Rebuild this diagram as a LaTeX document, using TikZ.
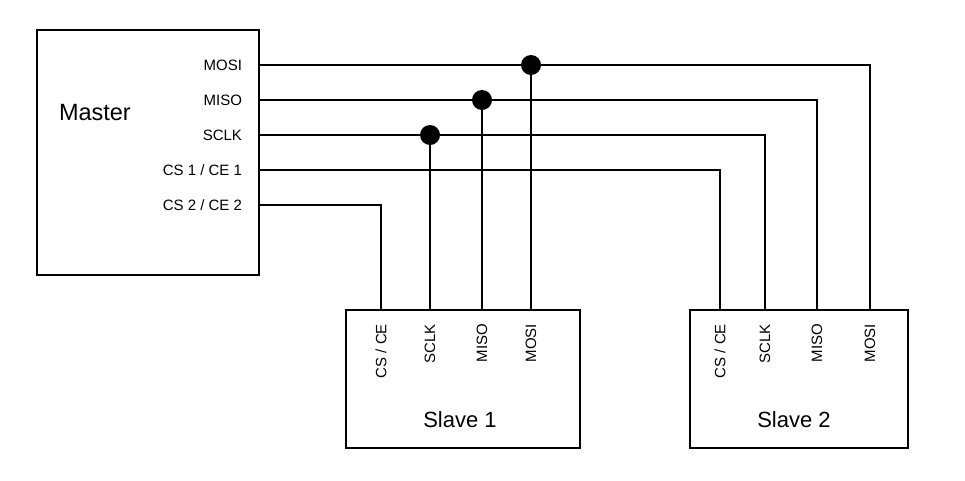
\documentclass[tikz,border=0pt]{standalone}
\usepackage{fontspec}
\setmainfont{Liberation Sans}
\usetikzlibrary{positioning}
\newcommand{\tikzJunctionDot}[1]{\fill #1 circle (10pt)}

\begin{document}
\begin{tikzpicture}[x=1pt,y=-1pt,line width=2pt,
    box/.style={draw,rectangle,inner sep=0pt,outer sep=0pt,anchor=north west},
    pin/.style={font=\fontsize{15}{18}\selectfont,inner sep=0pt,anchor=east},
    slavepin/.style={pin,rotate=90},
    title/.style={font=\fontsize{22}{26}\selectfont,inner sep=0pt}]
                \useasboundingbox (0,0) rectangle (965,480);
                % boxes
                \node[box,minimum width=222pt,minimum height=245pt] (master) at (37,30) {};
                \node[box,minimum width=234pt,minimum height=138pt] (slave1) at (346,310) {};
                \node[box,minimum width=218pt,minimum height=138pt] (slave2) at (690,310) {};
                \node[title,font=\fontsize{23.5}{28}\selectfont,anchor=base west] (mastertxt) at (58,120) {Master};
                \node[title] (slave1txt) at (460,420) {Slave 1};
                \node[title] (slave2txt) at (794,420) {Slave 2};
                % master pins
                \node[pin] (mmosi) at (243,65) {MOSI};
                \node[pin] (mmiso) at (243,100) {MISO};
                \node[pin] (msclk) at (243,135) {SCLK};
                \node[pin] (mcs1) at (243,170) {CS 1 / CE 1};
                \node[pin] (mcs2) at (243,205) {CS 2 / CE 2};
                % slave pins
                \node[slavepin] (s1cs) at (381,323) {CS / CE};
                \node[slavepin] (s1sclk) at (430,323) {SCLK};
                \node[slavepin] (s1miso) at (482,323) {MISO};
                \node[slavepin] (s1mosi) at (531,323) {MOSI};
                \node[slavepin] (s2cs) at (720,323) {CS / CE};
                \node[slavepin] (s2sclk) at (765,323) {SCLK};
                \node[slavepin] (s2miso) at (817,323) {MISO};
                \node[slavepin] (s2mosi) at (870,323) {MOSI};
                % wires to slave 2
                \draw (master.east |- mmosi) -| (s2mosi |- slave2.north);
                \draw (master.east |- mmiso) -| (s2miso |- slave2.north);
                \draw (master.east |- msclk) -| (s2sclk |- slave2.north);
                \draw (master.east |- mcs1) -| (s2cs |- slave2.north);
                % wires to slave 1
                \draw (master.east |- mcs2) -| (s1cs |- slave1.north);
                \coordinate (jmosi) at (s1mosi |- mmosi);
                \coordinate (jmiso) at (s1miso |- mmiso);
                \coordinate (jsclk) at (s1sclk |- msclk);
                \draw (jmosi) -- (s1mosi |- slave1.north);
                \draw (jmiso) -- (s1miso |- slave1.north);
                \draw (jsclk) -- (s1sclk |- slave1.north);
                \tikzJunctionDot{(jmosi)};
                \tikzJunctionDot{(jmiso)};
                \tikzJunctionDot{(jsclk)};
\end{tikzpicture}
\end{document}
